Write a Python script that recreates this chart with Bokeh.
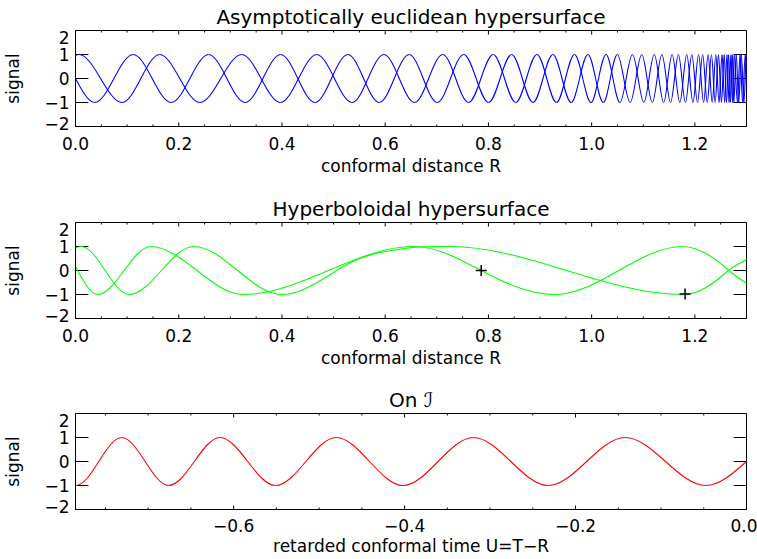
import math
from bokeh.plotting import figure
from bokeh.models import Range1d, LinearAxis, FixedTicker, ColumnDataSource
from bokeh.layouts import column
from bokeh.embed import file_html
from bokeh.resources import INLINE

FONT = "DejaVu Sans"

# ---------------- data ----------------
titles = ["Asymptotically euclidean hypersurface", "Hyperboloidal hypersurface", "On ℐ"]
xlabel_R = "conformal distance R"
xlabel_U = "retarded conformal time U=T−R"
ylabel = "signal"

R_ticks = [0.0, 0.2, 0.4, 0.6, 0.8, 1.0, 1.2]
R_tick_labels = ["0.0", "0.2", "0.4", "0.6", "0.8", "1.0", "1.2"]
R_minor = [0.05, 0.1, 0.15, 0.25, 0.3, 0.35, 0.45, 0.5, 0.55, 0.65, 0.7, 0.75,
           0.85, 0.9, 0.95, 1.05, 1.1, 1.15, 1.25]
U_ticks = [-0.6, -0.4, -0.2, 0.0]
U_tick_labels = ["−0.6", "−0.4", "−0.2", "0.0"]
U_minor = [-0.75, -0.7, -0.65, -0.55, -0.5, -0.45, -0.35, -0.3, -0.25, -0.15, -0.1, -0.05]
y_ticks = [-2, -1, 0, 1, 2]
y_tick_labels = ["−2", "−1", "0", "1", "2"]
# where the y tick labels sit (the end labels are pulled inside the frame)
y_label_pos = [-1.86, -1, 0, 1, 1.72]

# asymptotically euclidean slice: extrema of the two blue curves (R, signal)
top_a_R = [-0.075, 0.007, 0.0902, 0.163, 0.241, 0.322, 0.397, 0.4673, 0.5359, 0.5975,
           0.657, 0.7115, 0.7617, 0.8093, 0.853, 0.8941, 0.9319, 0.9668, 0.9988, 1.0279,
           1.0548, 1.0791, 1.1011, 1.1213, 1.1395, 1.1559, 1.1708, 1.1842, 1.1963, 1.2071,
           1.2169, 1.2256, 1.2336, 1.2406, 1.2469, 1.2526, 1.2577, 1.2622, 1.2662, 1.2699,
           1.2731, 1.2760, 1.2825, 1.2875, 1.2925, 1.2975, 1.3025]
top_a_val = [-1, 1, -1, 1, -1, 1, -1, 1, -1, 1, -1, 1, -1, 1, -1, 1, -1, 1, -1, 1,
             -1, 1, -1, 1, -1, 1, -1, 1, -1, 1, -1, 1, -1, 1, -1, 1, -1, 1, -1, 1,
             -1, 1, -1, 1, -1, 1, -1]
top_b_R = [-0.0373, 0.0373, 0.1117, 0.1854, 0.2579, 0.3287, 0.3975, 0.4640, 0.5277, 0.5886,
           0.6464, 0.7009, 0.7522, 0.8003, 0.8450, 0.8865, 0.9249, 0.9603, 0.9928, 1.0226,
           1.0498, 1.0746, 1.0971, 1.1176, 1.1361, 1.1529, 1.1681, 1.1817, 1.1941, 1.2051,
           1.2151, 1.2240, 1.2321, 1.2393, 1.2457, 1.2515, 1.2567, 1.2613, 1.2654, 1.2692,
           1.2725, 1.2754, 1.2800, 1.2850, 1.2900, 1.2950, 1.3000, 1.3050]
top_b_val = [1, -1, 1, -1, 1, -1, 1, -1, 1, -1, 1, -1, 1, -1, 1, -1, 1, -1, 1, -1,
             1, -1, 1, -1, 1, -1, 1, -1, 1, -1, 1, -1, 1, -1, 1, -1, 1, -1, 1, -1,
             1, -1, 1, -1, 1, -1, 1, -1]

# hyperboloidal slices: knots of the two green curves
hyp_a_R = [-0.08, 0.011, 0.104, 0.229, 0.399, 0.535, 0.641, 0.725, 1.178, 1.265, 1.300, 1.360]
hyp_a_val = [-1, 1, -1, 1, -1, 0.35, 0.93, 1.0, -1, 0, 0.46, 1]
hyp_b_R = [-0.035, 0.043, 0.1456, 0.325, 0.655, 0.786, 0.929, 1.176, 1.266, 1.300, 1.360]
hyp_b_val = [1, -1, 1, -1, 1, 0, -1, 1, 0, -0.53, -1]
scri_hit_R = [0.786, 1.181]
scri_hit_val = [0.0, -0.98]

# signal on scri: knots of the red curve
scri_U = [-0.8275, -0.7845, -0.731, -0.676, -0.616, -0.551, -0.480, -0.402, -0.3195,
          -0.232, -0.142, -0.0475, 0.0473]
scri_val = [1, -1, 1, -1, 1, -1, 1, -1, 1, -1, 1, -1, 1]


# ---------------- drawing helpers ----------------
def knots_to_bezier(xs, ys):
    n = len(xs)
    slopes = []
    for i in range(n):
        if i == 0 or i == n - 1 or abs(ys[i]) >= 0.99:
            slopes.append(0.0)
        else:
            f = 1 + (math.pi / 2 - 1) * (1 - abs(ys[i]))
            slopes.append(f * (ys[i + 1] - ys[i - 1]) / (xs[i + 1] - xs[i - 1]))
    d = dict(x0=[], y0=[], x1=[], y1=[], cx0=[], cy0=[], cx1=[], cy1=[])
    for i in range(n - 1):
        dx = xs[i + 1] - xs[i]
        d["x0"].append(xs[i]); d["y0"].append(ys[i])
        d["x1"].append(xs[i + 1]); d["y1"].append(ys[i + 1])
        d["cx0"].append(xs[i] + dx / 3); d["cy0"].append(ys[i] + slopes[i] * dx / 3)
        d["cx1"].append(xs[i + 1] - dx / 3); d["cy1"].append(ys[i + 1] - slopes[i + 1] * dx / 3)
    return ColumnDataSource(d)


def draw_curve(p, xs, ys, color):
    src = knots_to_bezier(xs, ys)
    p.bezier(x0="x0", y0="y0", x1="x1", y1="y1", cx0="cx0", cy0="cy0", cx1="cx1", cy1="cy1",
             source=src, line_color=color, line_width=1.1)


W = 757
LEFT, RIGHT = 70, 11
FW = W - LEFT - RIGHT
FH = 96


def build(height, top, bottom, xr, xticks, xlabels, xminor, title, xlabel,
          tick_standoff, xlabel_standoff):
    p = figure(width=W, height=height, x_range=Range1d(xr[0], xr[1]), y_range=Range1d(-2, 2),
               x_axis_type=None, y_axis_type=None, output_backend="svg", toolbar_location=None,
               min_border_left=LEFT, min_border_right=RIGHT, min_border_top=top,
               min_border_bottom=bottom)
    p.outline_line_color = "black"
    p.outline_line_width = 1
    p.background_fill_color = "white"
    p.border_fill_color = "white"

    p.title.text = title
    p.title.align = "center"
    p.title.text_font = FONT
    p.title.text_font_size = "20px"
    p.title.text_font_style = "normal"
    p.title.text_color = "black"
    p.title.standoff = 4

    xax = LinearAxis(ticker=FixedTicker(ticks=xticks, minor_ticks=[]),
                     major_tick_in=0, major_tick_out=0, minor_tick_in=0, minor_tick_out=0,
                     axis_line_color="black")
    xax.major_label_overrides = dict(zip(xticks, xlabels))
    xax.major_label_text_font = FONT
    xax.major_label_text_font_size = "17px"
    xax.major_label_text_color = "black"
    xax.major_label_standoff = tick_standoff
    xax.axis_label = xlabel
    xax.axis_label_text_font = FONT
    xax.axis_label_text_font_size = "17px"
    xax.axis_label_text_font_style = "normal"
    xax.axis_label_text_color = "black"
    xax.axis_label_standoff = xlabel_standoff
    p.add_layout(xax, "below")

    yax = LinearAxis(ticker=FixedTicker(ticks=y_label_pos, minor_ticks=[]),
                     major_tick_in=0, major_tick_out=0, minor_tick_in=0, minor_tick_out=0,
                     axis_line_color="black")
    yax.major_label_overrides = dict(zip(y_label_pos, y_tick_labels))
    yax.major_label_text_font = FONT
    yax.major_label_text_font_size = "17px"
    yax.major_label_text_color = "black"
    yax.major_label_standoff = 6
    yax.axis_label = ylabel
    yax.axis_label_text_font = FONT
    yax.axis_label_text_font_size = "17px"
    yax.axis_label_text_font_style = "normal"
    yax.axis_label_text_color = "black"
    yax.axis_label_standoff = 18
    p.add_layout(yax, "left")

    # inward ticks on all four edges of the frame
    yunit = 4.0 / FH
    xunit = (xr[1] - xr[0]) / FW
    tx = list(xticks) + list(xminor)
    tlen = [4 * yunit] * len(xticks) + [2 * yunit] * len(xminor)
    p.segment(x0=tx, x1=tx, y0=[2] * len(tx), y1=[2 - L for L in tlen],
              line_color="black", line_width=1)
    p.segment(x0=tx, x1=tx, y0=[-2] * len(tx), y1=[-2 + L for L in tlen],
              line_color="black", line_width=1)
    n = len(y_ticks)
    p.segment(x0=[xr[1]] * n, x1=[xr[1] - 13 * xunit] * n, y0=y_ticks, y1=y_ticks,
              line_color="black", line_width=1)
    p.segment(x0=[xr[0]] * n, x1=[xr[0] + 13 * xunit] * n, y0=y_ticks, y1=y_ticks,
              line_color="black", line_width=1)
    return p


p1 = build(192, 30, 66, (0.0, 1.3), R_ticks, R_tick_labels, R_minor, titles[0], xlabel_R, 10, 3)
draw_curve(p1, top_a_R, top_a_val, "#0000ff")
draw_curve(p1, top_b_R, top_b_val, "#0000ff")

p2 = build(190, 30, 64, (0.0, 1.3), R_ticks, R_tick_labels, R_minor, titles[1], xlabel_R, 10, 3)
draw_curve(p2, hyp_a_R, hyp_a_val, "#00ff00")
draw_curve(p2, hyp_b_R, hyp_b_val, "#00ff00")
p2.scatter(scri_hit_R, scri_hit_val, marker="cross", size=11, line_color="black", line_width=1.5)

p3 = build(177, 31, 50, (-0.785, 0.0), U_ticks, U_tick_labels, U_minor, titles[2], xlabel_U, 9, 1)
draw_curve(p3, scri_U, scri_val, "#ff0000")

layout = column(p1, p2, p3, spacing=0)
open("out.html", "w").write(file_html(layout, INLINE))
